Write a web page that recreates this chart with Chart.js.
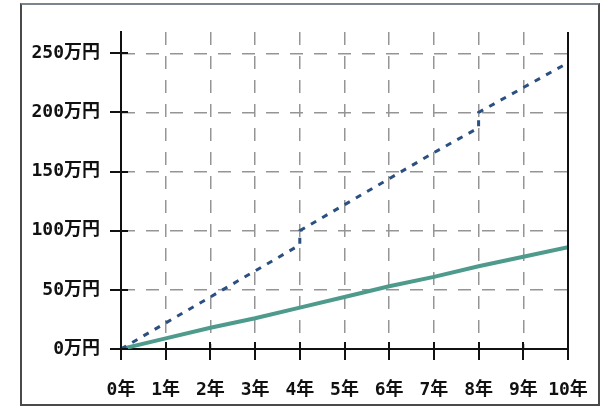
<!DOCTYPE html>
<html>
<head>
<meta charset="utf-8">
<script src="https://cdn.jsdelivr.net/npm/chart.js@4/dist/chart.umd.min.js"></script>
<style>
  html, body { margin:0; padding:0; background:#fff; }
  body { width:605px; height:408px; position:relative; overflow:hidden; }
  #frame { position:absolute; left:20px; top:3px; width:576px; height:399px; border:2px solid #4a4a4a; border-top-color:#7a8590; }
  #wrap { position:absolute; left:0; top:0; width:605px; height:408px; }
</style>
</head>
<body>
<div id="frame"></div>
<div id="wrap"><canvas id="c" width="605" height="408"></canvas></div>
<script>
// Data
const years = [0, 1, 2, 3, 4, 5, 6, 7, 8, 9, 10];
const greenValues = [0, 9, 18, 26, 35, 44, 53, 61, 70, 78, 86];
// dashed series has small jumps at year 4 and year 8
const blueYears  = [0, 1, 2, 3, 4, 4, 5, 6, 7, 8, 8, 9, 10];
const blueValues = [0, 22, 44, 66, 88, 100, 122, 144, 166, 187, 200, 221, 242];
const yTickValues = [0, 50, 100, 150, 200, 250];
const yUnit = '万円';
const xUnit = '年';

const FONT = { family: "'DejaVu Sans Mono', 'Noto Sans CJK JP', sans-serif", size: 18, weight: 'bold' };

const tickPlugin = {
  id: 'crossTicks',
  afterDraw(chart) {
    const ctx = chart.ctx, a = chart.chartArea;
    const xs = chart.scales.x, ys = chart.scales.y;
    ctx.save();
    ctx.strokeStyle = '#111';
    ctx.lineWidth = 2;
    ctx.beginPath();
    // right border of plot area
    ctx.moveTo(a.right, a.top);
    ctx.lineTo(a.right, a.bottom);
    ys.ticks.forEach(t => {
      const py = Math.round(ys.getPixelForValue(t.value));
      ctx.moveTo(a.left - 11, py);
      ctx.lineTo(a.left + 7, py);
    });
    xs.ticks.forEach(t => {
      const px = Math.round(xs.getPixelForValue(t.value));
      ctx.moveTo(px, a.bottom - 7);
      ctx.lineTo(px, a.bottom + 11);
    });
    ctx.stroke();
    ctx.restore();
  }
};

new Chart(document.getElementById('c'), {
  type: 'line',
  data: {
    datasets: [
      {
        data: blueYears.map((x, i) => ({ x, y: blueValues[i] })),
        borderColor: '#2a4f80',
        borderWidth: 3,
        borderDash: [6, 7],
        pointRadius: 0,
        fill: false,
        tension: 0
      },
      {
        data: years.map((x, i) => ({ x, y: greenValues[i] })),
        borderColor: '#4e9a8c',
        borderWidth: 4,
        pointRadius: 0,
        fill: false,
        tension: 0
      }
    ]
  },
  options: {
    responsive: false,
    animation: false,
    layout: { padding: { top: 32, right: 37, left: 0, bottom: 0 } },
    plugins: { legend: { display: false }, tooltip: { enabled: false } },
    scales: {
      x: {
        type: 'linear',
        min: 0, max: 10,
        ticks: {
          stepSize: 1,
          color: '#111',
          font: FONT,
          padding: 31,
          maxRotation: 0,
          callback: v => v + xUnit
        },
        grid: { color: '#959595', lineWidth: 1.5, drawTicks: false },
        border: { display: true, color: '#111', width: 2, dash: [13, 11] },
        afterFit: s => { s.height = 59; s.paddingRight = 0; s.paddingLeft = 0; }
      },
      y: {
        type: 'linear',
        min: 0, max: 268,
        afterBuildTicks: s => { s.ticks = yTickValues.map(v => ({ value: v })); },
        ticks: {
          color: '#111',
          font: FONT,
          padding: 21,
          callback: v => v + yUnit
        },
        grid: { color: '#959595', lineWidth: 1.5, drawTicks: false },
        border: { display: true, color: '#111', width: 2, dash: [13, 11] },
        afterFit: s => { s.width = 121; s.paddingTop = 0; s.paddingBottom = 0; }
      }
    }
  },
  plugins: [tickPlugin]
});
</script>
</body>
</html>
